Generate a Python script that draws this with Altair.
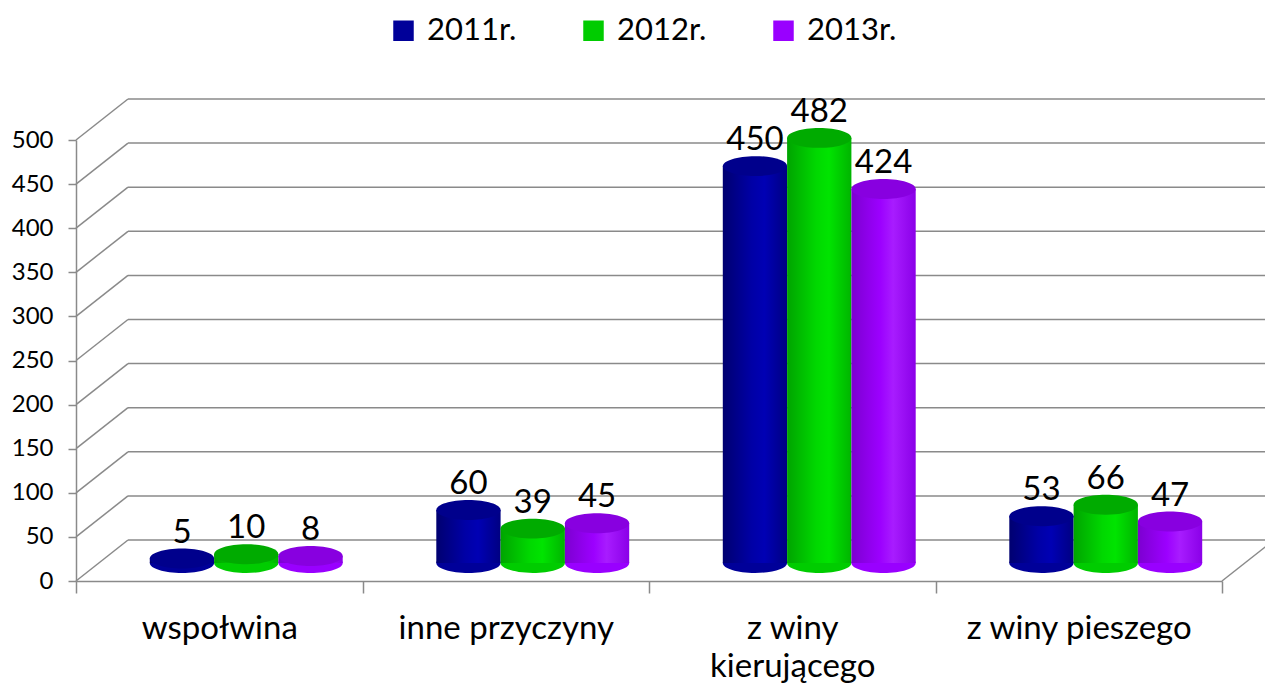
import altair as alt
import pandas as pd

categories = ["wspołwina", "inne przyczyny", "z winy kierującego", "z winy pieszego"]
series = ["2011r.", "2012r.", "2013r."]
values_2011 = [5, 60, 450, 53]
values_2012 = [10, 39, 482, 66]
values_2013 = [8, 45, 424, 47]
y_ticks = [0, 50, 100, 150, 200, 250, 300, 350, 400, 450, 500]

series_colors = ["#000099", "#00cc00", "#9900ff"]
top_colors = ["#00008c", "#00ab00", "#8800e0"]
body_stops = [
    ["#000070", "#0000a6", "#0000b4", "#000082"],
    ["#00a400", "#00d800", "#00e400", "#00b400"],
    ["#7c00d0", "#9c00ff", "#a81cff", "#8a00e8"],
]

rows = []
for s, vals in zip(series, [values_2011, values_2012, values_2013]):
    for c, v in zip(categories, vals):
        rows.append({"cat": c, "series": s, "value": v})
df = pd.DataFrame(rows)
grid_df = pd.DataFrame({"value": y_ticks})
floor_df = pd.DataFrame({"value": [0]})

W, H = 1146, 441
DX, DY = 52, 41
STEP = W / 4
BAR_W = 64.3
GROUP = 3 * BAR_W
SHIFT = 27
LIFT = -18
start = (STEP - GROUP) / 2 + SHIFT
sub_range = [start, start + GROUP]
GRID = "#8a8a8a"
FONT = "Lato"
ELLIPSE = "M -1 0 A 1 0.31 0 1 0 1 0 A 1 0.31 0 1 0 -1 0 Z"
ESIZE = BAR_W ** 2

x_enc = alt.X(
    "cat:N",
    sort=categories,
    scale=alt.Scale(domain=categories, paddingInner=0, paddingOuter=0),
    axis=alt.Axis(
        title=None, labelAngle=0, tickBand="extent", tickSize=12,
        tickColor=GRID, tickWidth=1.5, domainColor=GRID, domainWidth=1.5,
        labelFont=FONT, labelFontSize=33, labelColor="black", labelPadding=19,
        labelLineHeight=38, labelLimit=0,
        labelExpr="datum.label == 'z winy kierującego' ? ['z winy', 'kierującego'] : datum.label",
    ),
)
xo_enc = alt.XOffset(
    "series:N", sort=series,
    scale=alt.Scale(domain=series, range=sub_range, paddingInner=0, paddingOuter=0),
)
y_scale = alt.Scale(domain=[0, 500], nice=False)
y_enc = alt.Y(
    "value:Q", scale=y_scale,
    axis=alt.Axis(
        values=y_ticks, grid=False, title=None, domainColor=GRID, domainWidth=1.5,
        tickColor=GRID, tickWidth=1.5, tickSize=8, labelPadding=15,
        labelFont=FONT, labelFontSize=24, labelColor="black",
    ),
)

back = alt.Chart(grid_df).mark_rule(color=GRID, strokeWidth=1.5, yOffset=-DY).encode(
    y=y_enc, x=alt.value(DX), x2=alt.value(W + DX)
)
diag = alt.Chart(grid_df).mark_rule(color=GRID, strokeWidth=1.5, y2Offset=-DY).encode(
    y=y_enc, y2="value:Q", x=alt.value(0), x2=alt.value(DX)
)
floor = alt.Chart(floor_df).mark_rule(color=GRID, strokeWidth=1.5, y2Offset=-DY).encode(
    y=y_enc, y2="value:Q", x=alt.value(W), x2=alt.value(W + DX)
)

bottoms = alt.Chart(df).transform_calculate(zero="0").mark_point(
    shape=ELLIPSE, size=ESIZE, filled=True, opacity=1, strokeWidth=0, yOffset=LIFT
).encode(
    x=x_enc, xOffset=xo_enc,
    y=alt.Y("zero:Q", scale=y_scale),
    color=alt.Color(
        "series:N", sort=series,
        scale=alt.Scale(domain=series, range=series_colors),
        legend=alt.Legend(
            title=None, orient="none", direction="horizontal", legendX=312, legendY=-125,
            symbolType="square", symbolSize=420, symbolOpacity=1, symbolStrokeWidth=0,
            labelFont=FONT, labelFontSize=31, labelColor="black", labelOffset=8,
            columnPadding=61, padding=0,
        ),
    ),
)

bars = []
tops = []
for i, s in enumerate(series):
    stops = body_stops[i]
    grad = alt.Gradient(
        gradient="linear", x1=0, x2=1, y1=0, y2=0,
        stops=[
            alt.GradientStop(offset=0, color=stops[0]),
            alt.GradientStop(offset=0.45, color=stops[1]),
            alt.GradientStop(offset=0.65, color=stops[2]),
            alt.GradientStop(offset=1, color=stops[3]),
        ],
    )
    bars.append(
        alt.Chart(df).transform_filter(alt.datum.series == s)
        .transform_calculate(zero="0")
        .mark_bar(fill=grad, yOffset=LIFT, y2Offset=LIFT, strokeWidth=0)
        .encode(x=x_enc, xOffset=xo_enc, y=y_enc, y2="zero:Q")
    )
    tops.append(
        alt.Chart(df).transform_filter(alt.datum.series == s)
        .mark_point(shape=ELLIPSE, size=ESIZE, filled=True, opacity=1, strokeWidth=0,
                    yOffset=LIFT, fill=top_colors[i])
        .encode(x=x_enc, xOffset=xo_enc, y=y_enc)
    )

labels = alt.Chart(df).mark_text(
    font=FONT, fontSize=33, color="black", baseline="alphabetic", align="center", yOffset=-34
).encode(x=x_enc, xOffset=xo_enc, y=y_enc, text="value:Q")

chart = alt.layer(back, diag, floor, bottoms, *bars, *tops, labels).properties(
    width=W, height=H,
    autosize=alt.AutoSizeParams(type="none"),
    padding={"left": 68, "top": 132, "right": 43, "bottom": 106},
).configure(background="white").configure_view(stroke=None)

chart.save("out.html", embed_options={"renderer": "svg", "actions": False})
